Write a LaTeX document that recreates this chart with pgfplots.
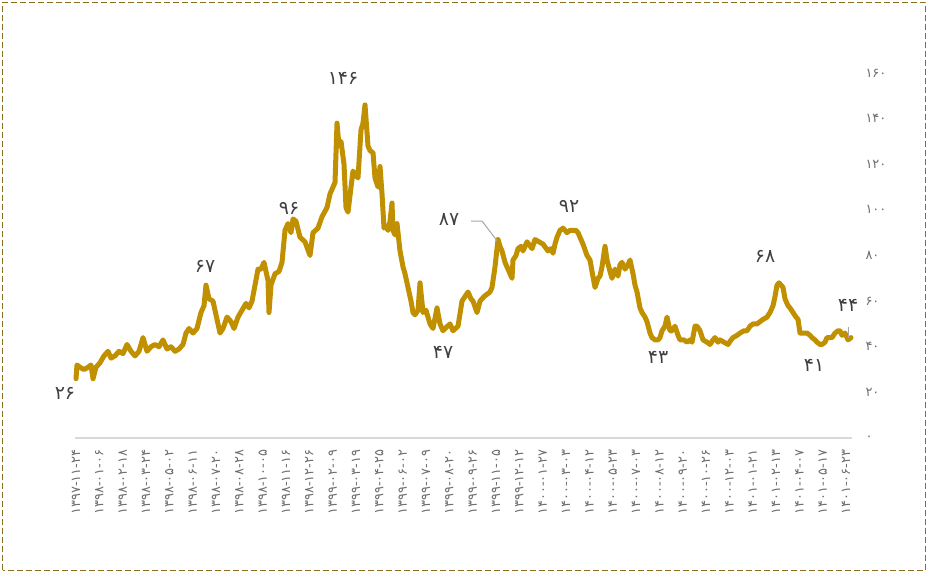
\documentclass[border=0pt]{standalone}
\usepackage{pgfplots}
\pgfplotsset{compat=1.18}
\usepackage{fontspec}
\setmainfont{DejaVu Sans}
\newfontfamily\fa[Script=Arabic]{DejaVu Sans}
\definecolor{gold}{RGB}{192,144,0}
\definecolor{lbl}{RGB}{64,64,64}
\definecolor{tickc}{RGB}{110,110,110}
\definecolor{framec}{RGB}{140,110,30}
\pgfplotstableread{
x y
0 26
1 32
4 31
8 30
12 31
15 32
17 26
20 31
24 33
28 36
32 38
35 35
39 36
43 38
47 37
51 41
55 38
59 36
63 38
67 44
71 38
75 40
79 41
83 40
87 43
91 39
95 40
99 38
103 39
107 41
110 46
113 48
117 46
121 48
125 55
128 58
130 67
133 61
137 60
140 54
144 46
147 48
151 53
155 51
158 48
162 53
166 56
170 59
173 57
176 60
179 67
182 74
185 74
188 77
190 73
192 69
193 55
195 67
199 72
203 73
206 77
209 91
212 94
215 90
217 96
220 95
224 88
229 86
234 80
237 90
242 92
246 97
251 101
254 107
257 110
259 112
261 138
263 128
265 130
268 120
270 101
272 99
275 110
277 117
280 115
282 114
285 135
287 138
289 146
292 128
294 126
297 125
299 114
302 110
304 119
306 107
308 92
310 93
312 91
314 95
316 103
317 91
319 89
321 94
324 82
327 75
329 72
332 66
335 60
337 55
339 54
342 56
344 68
347 55
350 56
354 50
357 48
361 57
364 50
367 47
369 48
374 50
377 47
382 49
386 60
389 62
392 64
395 61
397 60
401 55
404 60
408 62
411 63
414 64
416 66
419 75
422 87
424 84
426 82
429 77
432 74
434 72
436 70
437 78
440 80
442 83
445 84
447 82
451 86
456 83
459 87
463 86
467 85
472 82
475 83
477 81
479 85
481 88
484 91
487 92
491 90
494 91
497 91
500 91
502 90
504 88
507 85
511 80
514 78
516 73
519 66
522 70
524 71
526 75
529 84
531 78
534 73
536 70
539 74
542 71
544 76
546 77
549 74
552 76
554 78
557 72
559 67
561 64
564 57
566 55
569 53
571 51
574 46
576 44
579 43
582 43
584 44
586 47
589 49
591 53
594 47
596 47
599 49
602 45
604 43
608 43
611 42
614 43
616 42
619 49
621 49
624 47
627 43
631 42
634 41
637 43
639 44
642 42
644 43
648 42
652 41
655 43
657 44
661 45
664 46
668 47
671 47
674 49
677 50
681 50
684 51
687 52
691 53
694 55
697 58
699 62
701 67
703 68
705 67
707 66
709 61
712 58
714 57
717 55
720 53
722 52
724 46
728 46
731 46
734 45
736 44
739 43
741 42
744 41
746 41
749 42
751 44
754 44
756 44
759 46
762 47
764 47
766 45
769 46
772 43
775 44
}\data
\begin{document}
\begin{tikzpicture}[x=1bp,y=1bp]
\useasboundingbox (0,0) rectangle (928,573);
\draw[framec, line width=1.8bp, dash pattern=on 6bp off 3bp] (2.5,2.5) rectangle (925.5,570.5);
\begin{axis}[
  at={(75bp,135bp)}, anchor=south west,
  scale only axis, width=777bp, height=365bp,
  xmin=-1, xmax=776, ymin=0, ymax=160,
  clip=false,
  axis x line*=bottom, axis y line*=right,
  y axis line style={draw=none},
  x axis line style={draw=black!15, line width=1.5bp},
  major tick length=0pt,
  tick style={draw=none},
  ytick={0,20,40,60,80,100,120,140,160},
  yticklabels={۰,۲۰,۴۰,۶۰,۸۰,۱۰۰,۱۲۰,۱۴۰,۱۶۰},
  yticklabel style={font=\fa\fontsize{13}{15}\selectfont, text=tickc, anchor=west, xshift=10bp},
  xtick={0,23.33,46.67,70,93.33,116.67,140,163.33,186.67,210,233.33,256.67,280,303.33,326.67,350,373.33,396.67,420,443.33,466.67,490,513.33,536.67,560,583.33,606.67,630,653.33,676.67,700,723.33,746.67,770},
  xticklabels={
  ۱۳۹۷-۱۱-۲۴,۱۳۹۸-۰۱-۰۶,۱۳۹۸-۰۲-۱۸,۱۳۹۸-۰۳-۲۴,۱۳۹۸-۰۵-۰۲,۱۳۹۸-۰۶-۱۱,۱۳۹۸-۰۷-۲۰,۱۳۹۸-۰۸-۲۸,
  ۱۳۹۸-۱۰-۰۵,۱۳۹۸-۱۱-۱۶,۱۳۹۸-۱۲-۲۶,۱۳۹۹-۰۲-۰۹,۱۳۹۹-۰۳-۱۹,۱۳۹۹-۰۴-۲۵,۱۳۹۹-۰۶-۰۲,۱۳۹۹-۰۷-۰۹,
  ۱۳۹۹-۰۸-۲۰,۱۳۹۹-۰۹-۲۶,۱۳۹۹-۱۱-۰۵,۱۳۹۹-۱۲-۱۲,۱۴۰۰-۰۱-۲۷,۱۴۰۰-۰۳-۰۳,۱۴۰۰-۰۴-۱۲,۱۴۰۰-۰۵-۲۳,
  ۱۴۰۰-۰۷-۰۳,۱۴۰۰-۰۸-۱۲,۱۴۰۰-۰۹-۲۰,۱۴۰۰-۱۰-۲۶,۱۴۰۰-۱۲-۰۳,۱۴۰۱-۰۱-۲۱,۱۴۰۱-۰۲-۱۳,۱۴۰۱-۰۴-۰۷,
  ۱۴۰۱-۰۵-۱۷,۱۴۰۱-۰۶-۲۳},
  xticklabel shift=8bp,
  xticklabel style={font=\fa\fontsize{13}{15}\selectfont, text=tickc, rotate=90, anchor=east},
]
\addplot[gold, line width=5bp, line join=round, line cap=round] table[x=x,y=y] {\data};
\begin{scope}[every node/.style={font=\fa\fontsize{19}{21}\selectfont, text=lbl}]
\node at (axis cs:-11,19.7) {۲۶};
\node at (axis cs:129,75) {۶۷};
\node at (axis cs:213,100.8) {۹۶};
\node at (axis cs:267,157.8) {۱۴۶};
\node at (axis cs:373,95.6) {۸۷};
\node at (axis cs:367,37.7) {۴۷};
\node at (axis cs:493,101.3) {۹۲};
\node at (axis cs:582,35.5) {۴۳};
\node at (axis cs:689,79.4) {۶۸};
\node at (axis cs:738,31.6) {۴۱};
\node at (axis cs:772,57.9) {۴۴};
\end{scope}
\draw[black!35, line width=1bp] (axis cs:395,95.1) -- (axis cs:406,95.1) -- (axis cs:421,86.5);
\draw[black!35, line width=1bp] (axis cs:772,48.7) -- (axis cs:772,43.8);
\end{axis}
\end{tikzpicture}
\end{document}
